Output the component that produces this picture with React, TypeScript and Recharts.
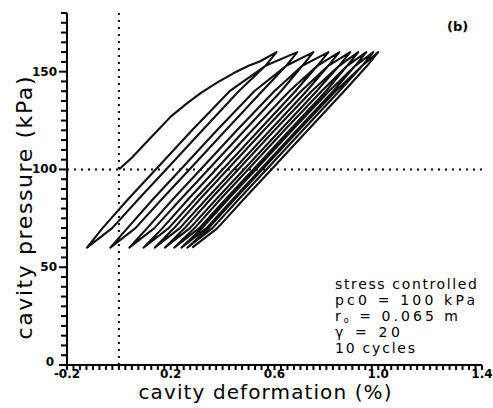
import {
  LineChart,
  Line,
  XAxis,
  YAxis,
  ReferenceLine,
} from "recharts";

const firstLoadKpa = [100, 106, 112.6, 120, 127, 133.5, 139, 144.5, 149.3, 153, 155.2, 160];
const loadKpa = [60, 70, 85, 100, 120, 140, 153, 160];
const unloadKpa = [160, 153, 140, 120, 100, 85, 70, 60];

// cavity deformation (%) along each branch
const firstLoad = [0, 0.05, 0.097, 0.15, 0.2, 0.26, 0.315, 0.38, 0.443, 0.5, 0.543, 0.608];
const unload1 = [0.608, 0.565, 0.462, 0.322, 0.182, 0.077, -0.026, -0.123];
const load2 = [-0.123, -0.063, 0.037, 0.142, 0.282, 0.427, 0.565, 0.688];
const unload2 = [0.688, 0.645, 0.552, 0.412, 0.272, 0.167, 0.064, -0.033];
const load3 = [-0.033, 0.033, 0.133, 0.238, 0.378, 0.522, 0.645, 0.75];
const unload3 = [0.75, 0.707, 0.625, 0.485, 0.345, 0.24, 0.137, 0.04];
const load4 = [0.04, 0.109, 0.21, 0.315, 0.455, 0.599, 0.707, 0.808];
const unload4 = [0.808, 0.765, 0.68, 0.54, 0.4, 0.295, 0.192, 0.095];
const load5 = [0.095, 0.168, 0.269, 0.374, 0.514, 0.657, 0.765, 0.85];
const unload5 = [0.85, 0.807, 0.723, 0.583, 0.443, 0.338, 0.235, 0.138];
const load6 = [0.138, 0.213, 0.314, 0.419, 0.559, 0.702, 0.807, 0.892];
const unload6 = [0.892, 0.849, 0.762, 0.622, 0.482, 0.377, 0.274, 0.177];
const load7 = [0.177, 0.254, 0.355, 0.46, 0.6, 0.743, 0.849, 0.923];
const unload7 = [0.923, 0.88, 0.798, 0.658, 0.518, 0.413, 0.31, 0.213];
const load8 = [0.213, 0.292, 0.393, 0.498, 0.638, 0.781, 0.88, 0.954];
const unload8 = [0.954, 0.911, 0.826, 0.686, 0.546, 0.441, 0.338, 0.241];
const load9 = [0.241, 0.321, 0.423, 0.528, 0.668, 0.81, 0.911, 0.981];
const unload9 = [0.981, 0.938, 0.849, 0.709, 0.569, 0.464, 0.361, 0.264];
const load10 = [0.264, 0.346, 0.448, 0.553, 0.693, 0.835, 0.938, 1.0];
const unload10 = [1.0, 0.957, 0.868, 0.728, 0.588, 0.483, 0.38, 0.283];

const xMajor = [-0.2, 0.2, 0.6, 1.0, 1.4];
const xMajorLabels = ["-0.2", "0.2", "0.6", "1.0", "1.4"];
const yMajor = [0, 50, 100, 150];
const yMajorLabels = ["0", "50", "100", "150"];

const notes = ["stress controlled", "pc0 = 100 kPa", "r0 = 0.065 m", "γ = 20", "10 cycles"];

const branches: [number[], number[]][] = [
  [firstLoad, firstLoadKpa],
  [unload1, unloadKpa],
  [load2, loadKpa], [unload2, unloadKpa],
  [load3, loadKpa], [unload3, unloadKpa],
  [load4, loadKpa], [unload4, unloadKpa],
  [load5, loadKpa], [unload5, unloadKpa],
  [load6, loadKpa], [unload6, unloadKpa],
  [load7, loadKpa], [unload7, unloadKpa],
  [load8, loadKpa], [unload8, unloadKpa],
  [load9, loadKpa], [unload9, unloadKpa],
  [load10, loadKpa], [unload10, unloadKpa],
];

const path = branches.flatMap(([xs, ps]) => xs.map((d, i) => ({ def: d, p: ps[i] })));

const xTicks: number[] = [];
for (let k = 0; k <= 64; k++) xTicks.push(Math.round((-0.2 + k * 0.025) * 1000) / 1000);
const yTicks: number[] = [];
for (let k = 0; k <= 36; k++) yTicks.push(k * 5);

// plot box, shared by the chart margins and the tick overlay
const W = 493;
const H = 408;
const PLOT = { left: 67, right: 482, top: 13, bottom: 365 };
const X_DOMAIN = [-0.2, 1.4];
const Y_DOMAIN = [0, 180];
const sx = (v: number) =>
  PLOT.left + ((v - X_DOMAIN[0]) / (X_DOMAIN[1] - X_DOMAIN[0])) * (PLOT.right - PLOT.left);
const sy = (v: number) =>
  PLOT.bottom - ((v - Y_DOMAIN[0]) / (Y_DOMAIN[1] - Y_DOMAIN[0])) * (PLOT.bottom - PLOT.top);

const FONT = "'DejaVu Sans', sans-serif";

function XTick({ x, y, payload }: any) {
  const i = xMajor.findIndex((m) => Math.abs(m - payload.value) < 1e-6);
  if (i < 0) return <g />;
  return (
    <text x={x} y={y + 7} textAnchor="middle" fontFamily={FONT} fontWeight="bold" fontSize={12} fill="#000">
      {xMajorLabels[i]}
    </text>
  );
}

function YTick({ x, y, payload }: any) {
  const i = yMajor.indexOf(payload.value);
  if (i < 0) return <g />;
  const isZero = payload.value === 0;
  return (
    <text x={x - (isZero ? 7 : 4)} y={y + (isZero ? 1 : 4)} textAnchor="end" fontFamily={FONT} fontWeight="bold" fontSize={12} fill="#000">
      {yMajorLabels[i]}
    </text>
  );
}

const axisStroke = { stroke: "#000", strokeWidth: 2 };

export default function App() {
  return (
    <div style={{ position: "absolute", left: 0, top: 0, width: W, height: H, background: "#fff" }}>
      <LineChart
        width={W}
        height={H}
        data={path}
        margin={{ top: PLOT.top, right: W - PLOT.right, bottom: 0, left: 0 }}
      >
        <XAxis
          dataKey="def"
          type="number"
          domain={X_DOMAIN}
          ticks={xTicks}
          interval={0}
          tick={<XTick />}
          tickSize={6}
          tickMargin={0}
          tickLine={false}
          height={H - PLOT.bottom}
          axisLine={axisStroke}
        />
        <XAxis
          xAxisId="top"
          orientation="top"
          type="number"
          domain={X_DOMAIN}
          tick={false}
          tickLine={false}
          height={0}
          axisLine={axisStroke}
        />
        <YAxis
          type="number"
          domain={Y_DOMAIN}
          ticks={yTicks}
          interval={0}
          tick={<YTick />}
          tickSize={6}
          tickMargin={0}
          tickLine={false}
          width={PLOT.left}
          axisLine={axisStroke}
        />
        <YAxis
          yAxisId="right"
          orientation="right"
          type="number"
          domain={Y_DOMAIN}
          tick={false}
          tickLine={false}
          width={0}
          axisLine={axisStroke}
        />
        <ReferenceLine x={0} stroke="#000" strokeWidth={2} strokeDasharray="2 5" />
        <ReferenceLine y={100} stroke="#000" strokeWidth={2} strokeDasharray="2 5" />
        <Line
          dataKey="p"
          type="linear"
          stroke="#111"
          strokeWidth={2.1}
          strokeLinejoin="round"
          dot={false}
          isAnimationActive={false}
        />
      </LineChart>
      <svg
        width={W}
        height={H}
        style={{ position: "absolute", left: 0, top: 0, pointerEvents: "none" }}
        fontFamily={FONT}
      >
        <g stroke="#000" strokeWidth={2}>
          {xTicks.map((v) => (
            <path key={`xt${v}`} d={`M${sx(v)},${PLOT.bottom}V${PLOT.bottom + 5}`} />
          ))}
          {yTicks.map((v) => {
            const major = yMajor.includes(v);
            return (
              <path key={`yt${v}`} d={`M${PLOT.left - (major ? 8 : 6)},${sy(v)}H${PLOT.left}`} />
            );
          })}
        </g>
        <text x={265} y={399} textAnchor="middle" fontSize={20} textLength={253} lengthAdjust="spacing" fill="#000">
          cavity deformation (%)
        </text>
        <text
          transform="translate(32,208) rotate(-90)"
          textAnchor="middle"
          fontSize={22}
          textLength={263}
          lengthAdjust="spacing"
          fill="#000"
        >
          cavity pressure (kPa)
        </text>
        <text x={447} y={31} fontSize={13} fontWeight="bold" fill="#000">(b)</text>
        <text x={335} y={289} fontSize={14} textLength={142} lengthAdjust="spacing" fill="#000">{notes[0]}</text>
        <text x={335} y={305} fontSize={14} textLength={140} lengthAdjust="spacing" fill="#000">{notes[1]}</text>
        <text x={335} y={321} fontSize={14} textLength={123} lengthAdjust="spacing" fill="#000">
          r<tspan fontSize={8} dy={2}>o</tspan>
          <tspan dy={-2}>{notes[2].slice(2)}</tspan>
        </text>
        <text x={335} y={337} fontSize={14} textLength={65} lengthAdjust="spacing" fill="#000">{notes[3]}</text>
        <text x={335} y={353} fontSize={14} textLength={80} lengthAdjust="spacing" fill="#000">{notes[4]}</text>
      </svg>
    </div>
  );
}
